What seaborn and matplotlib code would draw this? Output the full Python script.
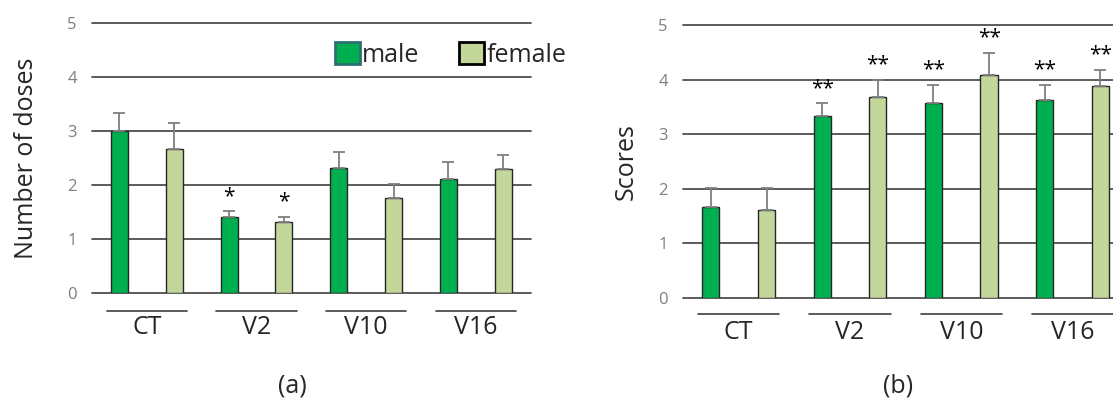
import pandas as pd
import matplotlib.pyplot as plt
import seaborn as sns

# values
groups = ["CT", "V2", "V10", "V16"]
sexes = ["male", "female"]

doses_male = [3.00, 1.41, 2.32, 2.12]
doses_male_err = [0.34, 0.10, 0.29, 0.30]
doses_female = [2.66, 1.32, 1.75, 2.30]
doses_female_err = [0.48, 0.09, 0.27, 0.26]
doses_male_sig = ["", "*", "", ""]
doses_female_sig = ["", "*", "", ""]

scores_male = [1.66, 3.33, 3.57, 3.62]
scores_male_err = [0.36, 0.24, 0.34, 0.29]
scores_female = [1.62, 3.69, 4.08, 3.89]
scores_female_err = [0.40, 0.31, 0.41, 0.29]
scores_male_sig = ["", "**", "**", "**"]
scores_female_sig = ["", "**", "**", "**"]

sns.set_style("white")
plt.rcParams["font.family"] = ["Open Sans", "DejaVu Sans"]

palette = {"male": "#00B050", "female": "#C4D79B"}


def make_df(male, female, male_err, female_err, male_sig, female_sig):
    return pd.DataFrame({
        "group": groups * 2,
        "sex": ["male"] * 4 + ["female"] * 4,
        "value": male + female,
        "err": male_err + female_err,
        "sig": male_sig + female_sig,
    })


def panel(ax, df, ylabel, legend, labelpad, line_y):
    # grid lines behind the bars
    for y in range(6):
        ax.axhline(y, color="#404040", lw=1.2, zorder=0, clip_on=False)

    sns.barplot(data=df, x="group", y="value", hue="sex", order=groups,
                hue_order=sexes, palette=palette, saturation=1,
                width=1.0, gap=0.69, edgecolor="#262626", linewidth=1,
                errorbar=None, legend=legend, ax=ax, zorder=2)

    # upper error bars and significance marks
    for sex, cont in zip(sexes, ax.containers):
        sub = df[df["sex"] == sex]
        xs = [p.get_x() + p.get_width() / 2 for p in cont.patches]
        vals = sub["value"].tolist()
        errs = sub["err"].tolist()
        ax.errorbar(xs, vals, yerr=[[0] * len(errs), errs], fmt="none",
                    ecolor="#7f7f7f", elinewidth=1.3, capsize=4,
                    capthick=1.3, zorder=3)
        for x, v, e, s in zip(xs, vals, errs, sub["sig"]):
            if s:
                ax.text(x, v + e + 0.08, s, ha="center", va="bottom",
                        fontsize=15, color="black")

    ax.set_ylim(0, 5)
    ax.set_xlim(-0.5, 3.5)
    ax.set_yticks(range(6))
    ax.tick_params(axis="y", length=0, pad=11, labelsize=12,
                   labelcolor="#7f7f7f")
    ax.tick_params(axis="x", length=0, pad=16, labelsize=18)
    ax.set_xlabel("")
    ax.set_ylabel(ylabel, fontsize=18, labelpad=labelpad)
    sns.despine(ax=ax, left=True, bottom=True, top=True, right=True)

    # short lines under each group name
    tr = ax.get_xaxis_transform()
    for i in range(len(groups)):
        ax.plot([i - 0.365, i + 0.365], [line_y, line_y], transform=tr,
                color="#404040", lw=1.2, clip_on=False)


fig = plt.figure(figsize=(11.13, 3.98), dpi=100)
ax1 = fig.add_axes([0.0827, 0.264, 0.394, 0.678])
ax2 = fig.add_axes([0.6137, 0.251, 0.400, 0.686])

df_doses = make_df(doses_male, doses_female, doses_male_err,
                   doses_female_err, doses_male_sig, doses_female_sig)
df_scores = make_df(scores_male, scores_female, scores_male_err,
                    scores_female_err, scores_male_sig, scores_female_sig)

panel(ax1, df_doses, "Number of doses", True, 20, -0.066)
panel(ax2, df_scores, "Scores", False, 14, -0.058)

leg = ax1.legend(loc="upper left", bbox_to_anchor=(0.553, 0.93), ncol=2,
                 frameon=False, fontsize=18, handlelength=1.0,
                 handleheight=1.0, handletextpad=0.1, columnspacing=1.6,
                 borderaxespad=0, borderpad=0)
for h, ec in zip(leg.legend_handles, ["#2f6f6f", "black"]):
    h.set_edgecolor(ec)
    h.set_linewidth(2)

fig.text(0.263, 0.03, "(a)", ha="center", va="center", fontsize=18)
fig.text(0.807, 0.03, "(b)", ha="center", va="center", fontsize=18)

plt.savefig("out.png", dpi=100)
plt.close()
